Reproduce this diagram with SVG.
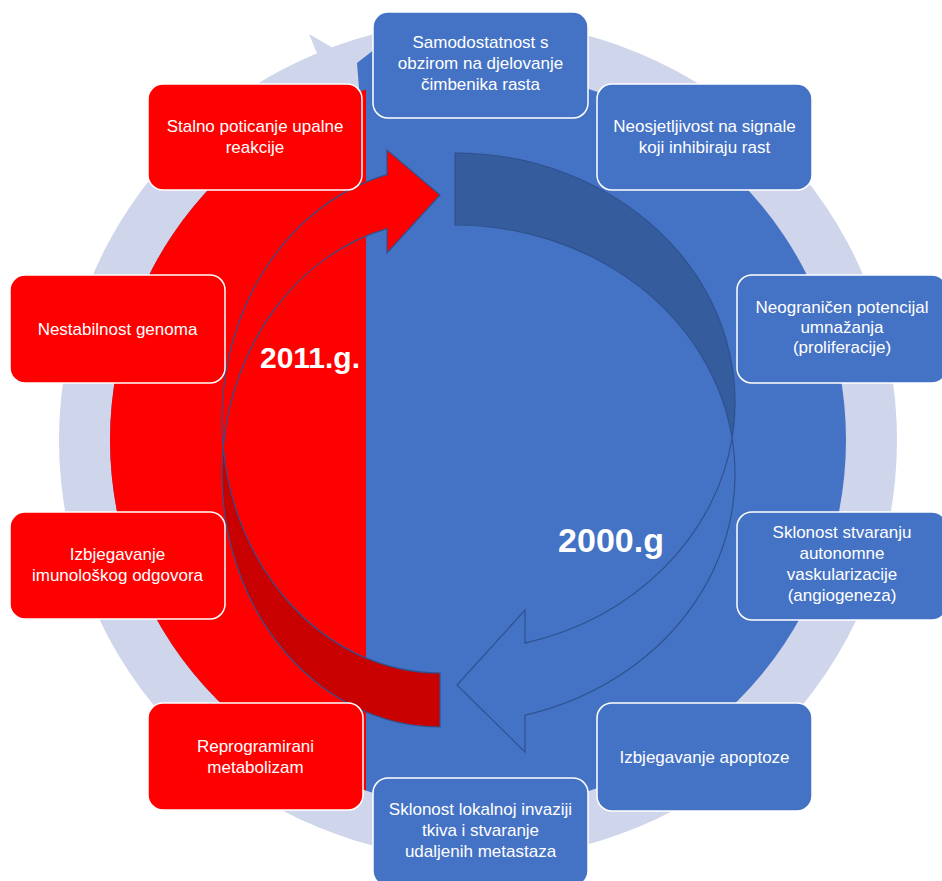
<svg xmlns="http://www.w3.org/2000/svg" width="942" height="881" viewBox="0 0 942 881">
<style>
.node rect{stroke:#ffffff;stroke-width:1.5}
.blue rect{fill:#4472C4}
.red rect{fill:#FF0000}
.t{font-family:"Liberation Sans",Arial,sans-serif;font-size:17px;fill:#ffffff;text-anchor:middle}
.yr{font-family:"Liberation Sans",Arial,sans-serif;font-weight:bold;fill:#ffffff;text-anchor:middle}
.edge{stroke:#2F528F;stroke-width:1.2}
</style>
<defs>
<clipPath id="leftHalf"><rect x="0" y="0" width="366" height="881"/></clipPath>
</defs>
<rect width="942" height="881" fill="#ffffff"/>
<g id="background">
<circle cx="478" cy="440" r="419" fill="#CFD5EA"/>
<polygon points="309,34 364,66 345,121" fill="#CFD5EA"/>
<polygon points="357,63 375,49 375,100 360,100" fill="#4472C4"/>
<circle cx="478" cy="440" r="368" fill="#4472C4"/>
<circle cx="478" cy="440" r="368" fill="#FF0000" clip-path="url(#leftHalf)"/>
</g>
<g id="connectors">
<path id="arrow-2000-back" class="edge" d="M455,153 A280,249 0 0,1 732.1,438 A280,249 0 0,0 455,225 Z" fill="#355D9E"/>
<path id="arrow-2000-front" class="edge" d="M732.1,438 A280,249 0 0,1 525,715.1 L525,752 L457,685 L525,610 L525,643.1 A280,249 0 0,0 732.1,438 Z" fill="#4472C4"/>
<path id="arrow-2011-back" class="edge" d="M223.2,447 A218,253 0 0,0 440,727 L440,673 A218,253 0 0,1 223.2,447 Z" fill="#C80000"/>
<path id="arrow-2011-front" class="edge" d="M387,174.6 L387,150 L440,195 L387,253 L387,228.6 A218,253 0 0,0 223.2,447 A218,253 0 0,1 387,174.6 Z" fill="#FF0000"/>
</g>
<g id="label-2011"><text class="yr" x="310" y="368" font-size="30">2011.g.</text></g>
<g id="label-2000"><text class="yr" x="611" y="552" font-size="34">2000.g</text></g>
<g id="node1" class="node blue"><rect x="373" y="12" width="215" height="106" rx="15"/>
<text class="t" x="480.5" y="48">Samodostatnost s</text><text class="t" x="480.5" y="69">obzirom na djelovanje</text><text class="t" x="480.5" y="90">čimbenika rasta</text></g>
<g id="node2" class="node blue"><rect x="597" y="84" width="215" height="106" rx="15"/>
<text class="t" x="704.5" y="132">Neosjetljivost na signale</text><text class="t" x="704.5" y="153">koji inhibiraju rast</text></g>
<g id="node3" class="node blue"><rect x="737" y="275" width="210" height="108" rx="15"/>
<text class="t" x="842" y="313">Neograničen potencijal</text><text class="t" x="842" y="333">umnažanja</text><text class="t" x="842" y="353">(proliferacije)</text></g>
<g id="node4" class="node blue"><rect x="737" y="512" width="210" height="108" rx="15"/>
<text class="t" x="842" y="538">Sklonost stvaranju</text><text class="t" x="842" y="559">autonomne</text><text class="t" x="842" y="580">vaskularizacije</text><text class="t" x="842" y="601">(angiogeneza)</text></g>
<g id="node5" class="node blue"><rect x="597" y="703" width="215" height="108" rx="15"/>
<text class="t" x="704.5" y="763">Izbjegavanje apoptoze</text></g>
<g id="node6" class="node blue"><rect x="373" y="778" width="215" height="108" rx="15"/>
<text class="t" x="480.5" y="815">Sklonost lokalnoj invaziji</text><text class="t" x="480.5" y="836">tkiva i stvaranje</text><text class="t" x="480.5" y="857">udaljenih metastaza</text></g>
<g id="node7" class="node red"><rect x="148" y="84" width="214" height="106" rx="15"/>
<text class="t" x="255" y="132">Stalno poticanje upalne</text><text class="t" x="255" y="153">reakcije</text></g>
<g id="node8" class="node red"><rect x="10" y="275" width="215" height="108" rx="15"/>
<text class="t" x="117.5" y="335">Nestabilnost genoma</text></g>
<g id="node9" class="node red"><rect x="10" y="512" width="215" height="107" rx="15"/>
<text class="t" x="117.5" y="560">Izbjegavanje</text><text class="t" x="117.5" y="581">imunološkog odgovora</text></g>
<g id="node10" class="node red"><rect x="148" y="703" width="215" height="107" rx="15"/>
<text class="t" x="255.5" y="752">Reprogramirani</text><text class="t" x="255.5" y="773">metabolizam</text></g>
</svg>
